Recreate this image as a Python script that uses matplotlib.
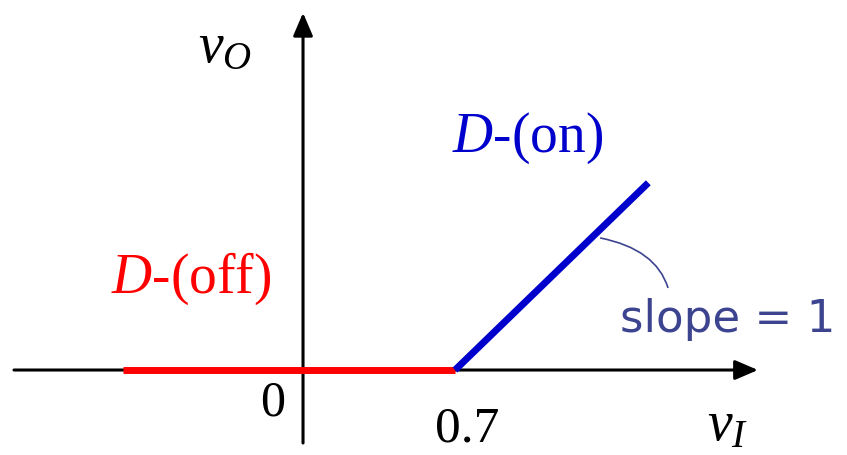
import matplotlib
matplotlib.use("Agg")
import matplotlib.pyplot as plt
from matplotlib.patches import FancyArrowPatch, PathPatch, ArrowStyle
from matplotlib.path import Path

plt.rcParams['mathtext.fontset'] = 'custom'
plt.rcParams['mathtext.it'] = 'Liberation Serif:italic'
plt.rcParams['mathtext.rm'] = 'Liberation Serif'

# data
v_threshold = 0.7
off_vi = [-0.83, 0.7]
off_vo = [0.0, 0.0]
on_vi = [0.7, 1.59]
on_vo = [0.0, 0.89]
tick_labels = ["0", "0.7"]

RED = "#ff0000"
BLUE = "#0000cc"
SLATE = "#3c4490"

fig = plt.figure(figsize=(8.47, 4.55), dpi=100)
ax = fig.add_axes([0, 0, 1, 1])
ax.set_xlim(-1.3954, 2.505)
ax.set_ylim(-0.404, 1.759)
ax.axis("off")

# axes arrows
style = ArrowStyle("-|>", head_length=14, head_width=6)
ax.add_patch(FancyArrowPatch((-1.331, 0), (2.095, 0), arrowstyle=style,
                             mutation_scale=1, lw=2.2, color="black",
                             shrinkA=0, shrinkB=0, zorder=2))
ax.add_patch(FancyArrowPatch((0, -0.347), (0, 1.698), arrowstyle=style,
                             mutation_scale=1, lw=2.2, color="black",
                             shrinkA=0, shrinkB=0, zorder=2))

# characteristic
ax.plot(off_vi, off_vo, color=RED, lw=5, solid_capstyle="butt", zorder=3)
ax.plot(on_vi, on_vo, color=BLUE, lw=5, solid_capstyle="butt", zorder=3)

# leader curve for slope label
verts = [(1.368, 0.628), (1.626, 0.575), (1.681, 0.390)]
codes = [Path.MOVETO, Path.CURVE3, Path.CURVE3]
ax.add_patch(PathPatch(Path(verts, codes), facecolor="none",
                       edgecolor=SLATE, lw=1.2, zorder=4))

serif = "Liberation Serif"
ax.text(0.686, 1.037, r"$D$-(on)", color=BLUE, fontsize=40, family=serif,
        ha="left", va="baseline")
ax.text(-0.884, 0.366, r"$D$-(off)", color=RED, fontsize=40, family=serif,
        ha="left", va="baseline")
ax.text(1.460, 0.181, "slope = 1", color=SLATE, fontsize=32.5,
        family="DejaVu Sans", ha="left", va="baseline")

ax.text(-0.083, -0.214, tick_labels[0], fontsize=36, family=serif,
        ha="right", va="baseline")
ax.text(0.608, -0.342, tick_labels[1], fontsize=37, family=serif,
        ha="left", va="baseline")

ax.text(-0.4836, 1.4646, r"$v_O$", fontsize=40, ha="left", va="baseline")
ax.text(1.8606, -0.333, r"$v_I$", fontsize=40, ha="left", va="baseline")

fig.savefig("out.png", dpi=100)
